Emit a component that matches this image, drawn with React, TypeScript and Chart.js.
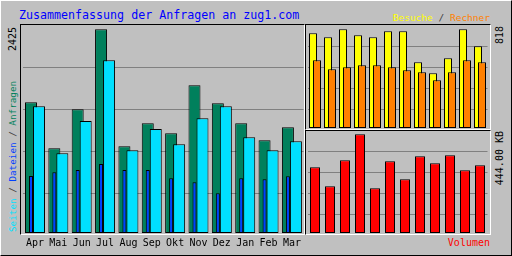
import React, { useEffect, useRef } from "react";
import { Chart, registerables } from "chart.js";

Chart.register(...registerables);

// ---- data ----
const months = ["Apr", "Mai", "Jun", "Jul", "Aug", "Sep", "Okt", "Nov", "Dez", "Jan", "Feb", "Mar"];
const anfragen = [1556, 1008, 1473, 2425, 1032, 1306, 1187, 1758, 1544, 1306, 1104, 1258];
const seiten = [1508, 949, 1333, 2056, 985, 1238, 1056, 1366, 1508, 1139, 985, 1092];
const dateien = [679, 723, 750, 821, 750, 750, 651, 604, 473, 651, 639, 675];
const besuche = [785, 752, 818, 768, 752, 801, 801, 545, 453, 578, 818, 677];
const rechner = [561, 486, 503, 520, 520, 503, 478, 462, 395, 462, 561, 545];
const volumenKB = [295.5, 210, 327, 444, 201, 322.5, 241.5, 345, 313.5, 349.5, 282, 304.5];

const titleText = "Zusammenfassung der Anfragen an zug1.com";
const maxAnfragenLabel = String(Math.max(...anfragen));
const maxBesucheLabel = String(Math.max(...besuche));
const maxVolumenLabel = Math.max(...volumenKB).toFixed(2) + " KB";

const FONT = "'DejaVu Sans Mono', monospace";
const C = {
  bg: "#C0C0C0",
  grid: "#808080",
  green: "#00805C",
  cyan: "#00E0FF",
  blue: "#0040FF",
  yellow: "#FFFF00",
  orange: "#FF8000",
  red: "#FF0000",
  title: "#0000FF",
};

function gridAxis(min: number, max: number) {
  return {
    type: "linear",
    position: "left",
    min,
    max,
    afterBuildTicks: (s: any) => {
      s.ticks = [1, 2, 3, 4].map((v) => ({ value: v }));
    },
    afterFit: (s: any) => {
      s.width = 0;
    },
    ticks: { display: false },
    grid: { color: C.grid, drawTicks: false, lineWidth: 1 },
    border: { display: false },
  };
}

const barStyle = {
  borderColor: "#000000",
  borderWidth: 1,
  borderSkipped: false,
  inflateAmount: 0,
};

const baseOptions = {
  animation: false,
  responsive: false,
  maintainAspectRatio: false,
  events: [],
  plugins: { legend: { display: false }, tooltip: { enabled: false }, title: { display: false } },
};

function useChart(ref: React.RefObject<HTMLCanvasElement>, make: () => any) {
  useEffect(() => {
    if (!ref.current) return;
    const chart = new Chart(ref.current, make());
    return () => chart.destroy();
  }, []);
}

function MainChart() {
  const ref = useRef<HTMLCanvasElement>(null);
  useChart(ref, () => ({
    type: "bar",
    data: {
      labels: months,
      datasets: [
        { label: "Anfragen", data: anfragen, backgroundColor: C.green, stack: "a", order: 3, categoryPercentage: 0.685, barPercentage: 1.5, ...barStyle },
        { label: "Seiten", data: seiten, backgroundColor: C.cyan, stack: "b", order: 2, categoryPercentage: 0.685, barPercentage: 1.5, ...barStyle },
        { label: "Dateien", data: dateien, backgroundColor: C.blue, stack: "a", order: 1, categoryPercentage: 0.685, barPercentage: 0.5, ...barStyle },
      ],
    },
    options: {
      ...baseOptions,
      layout: { padding: { left: 23.3, right: 1.3, top: 25, bottom: 0 } },
      scales: {
        x: {
          type: "category",
          offset: true,
          grid: { display: false, drawTicks: false },
          border: { display: false },
          afterFit: (s: any) => {
            s.height = 23;
          },
          ticks: { color: "#000", font: { family: FONT, size: 10 }, padding: 4, autoSkip: false, maxRotation: 0 },
        },
        y: { type: "linear", display: false, stacked: false, min: 0, max: Math.max(...anfragen) * 1.021 },
        g: gridAxis(0.05, 5),
      },
    },
  }));
  return <canvas ref={ref} width={305} height={256} style={{ position: "absolute", left: 0, top: 0 }} />;
}

function VisitsChart() {
  const ref = useRef<HTMLCanvasElement>(null);
  useChart(ref, () => ({
    type: "bar",
    data: {
      labels: months,
      datasets: [
        // empty spacer so that Besuche takes the left slot while being drawn beneath Rechner
        { label: "", data: [], stack: "l", order: 0 },
        { label: "Besuche", data: besuche, backgroundColor: C.yellow, stack: "l", order: 2, categoryPercentage: 0.5333, barPercentage: 2, ...barStyle },
        { label: "Rechner", data: rechner, backgroundColor: C.orange, stack: "r", order: 1, categoryPercentage: 0.5333, barPercentage: 2, ...barStyle },
      ],
    },
    options: {
      ...baseOptions,
      layout: { padding: { left: 1.5, right: 2.5, top: 0, bottom: 0 } },
      scales: {
        x: { type: "category", offset: true, display: false },
        y: { type: "linear", display: false, stacked: false, min: 0, max: Math.max(...besuche) * 1.0436 },
        g: gridAxis(0.1, 5),
      },
    },
  }));
  return <canvas ref={ref} width={184} height={103} style={{ position: "absolute", left: 306, top: 25 }} />;
}

function VolumeChart() {
  const ref = useRef<HTMLCanvasElement>(null);
  useChart(ref, () => ({
    type: "bar",
    data: {
      labels: months,
      datasets: [
        { label: "Volumen", data: volumenKB, backgroundColor: C.red, categoryPercentage: 1, barPercentage: 0.6667, ...barStyle },
      ],
    },
    options: {
      ...baseOptions,
      layout: { padding: { left: 1.5, right: 2.5, top: 0, bottom: 0 } },
      scales: {
        x: { type: "category", offset: true, display: false },
        y: { type: "linear", display: false, min: 0, max: Math.max(...volumenKB) * 1.0334 },
        g: gridAxis(0.1, 4.96),
      },
    },
  }));
  return <canvas ref={ref} width={184} height={102} style={{ position: "absolute", left: 306, top: 131 }} />;
}

function Panel({ left, top, width, height }: { left: number; top: number; width: number; height: number }) {
  return (
    <div
      style={{
        position: "absolute",
        left,
        top,
        width,
        height,
        boxSizing: "border-box",
        borderTop: "1px solid #000",
        borderLeft: "1px solid #000",
        borderRight: "1px solid #fff",
        borderBottom: "1px solid #fff",
      }}
    />
  );
}

// rotated text reading bottom-to-top; anchored either at its start (bottom) or its end (top)
function VText({ x, y, anchor, box, children, size = 10 }: any) {
  const common: any = {
    position: "absolute",
    left: x,
    transform: "rotate(-90deg)",
    transformOrigin: "0 0",
    whiteSpace: "nowrap",
    fontFamily: FONT,
    fontSize: size,
    lineHeight: "12px",
    height: 12,
  };
  if (anchor === "top") {
    return <div style={{ ...common, top: y + box, width: box, textAlign: "right" }}>{children}</div>;
  }
  return <div style={{ ...common, top: y }}>{children}</div>;
}

export default function App() {
  return (
    <div
      style={{
        position: "absolute",
        left: 0,
        top: 0,
        width: 512,
        height: 256,
        background: C.bg,
        overflow: "hidden",
        boxSizing: "border-box",
        borderTop: "1px solid #fff",
        borderLeft: "1px solid #fff",
        borderRight: "1px solid #000",
        borderBottom: "1px solid #000",
        fontFamily: FONT,
      }}
    >
      <div style={{ position: "absolute", left: -1, top: -1, width: 512, height: 256 }}>
        <Panel left={20} top={24} width={285} height={211} />
        <Panel left={305} top={24} width={186} height={106} />
        <Panel left={305} top={130} width={186} height={105} />

        <div style={{ position: "absolute", left: 19, top: 8, fontSize: 11.65, lineHeight: "14px", color: C.title, whiteSpace: "nowrap" }}>
          {titleText}
        </div>
        <div style={{ position: "absolute", right: 512 - 490, top: 12, fontSize: 9.5, lineHeight: "12px", whiteSpace: "nowrap" }}>
          <span style={{ color: C.yellow }}>Besuche</span>
          <span style={{ color: "#404040" }}> / </span>
          <span style={{ color: C.orange }}>Rechner</span>
        </div>
        <div style={{ position: "absolute", right: 512 - 490, top: 237, fontSize: 10, lineHeight: "12px", color: C.red, whiteSpace: "nowrap" }}>
          Volumen
        </div>

        <VText x={7} y={26.5} anchor="top" box={60}>{maxAnfragenLabel}</VText>
        <VText x={7} y={232.3} size={9.3}>
          <span style={{ color: C.cyan }}>Seiten</span>
          <span style={{ color: "#404040" }}> / </span>
          <span style={{ color: C.blue }}>Dateien</span>
          <span style={{ color: "#404040" }}> / </span>
          <span style={{ color: C.green }}>Anfragen</span>
        </VText>
        <VText x={494} y={26} anchor="top" box={60}>{maxBesucheLabel}</VText>
        <VText x={494} y={131} anchor="top" box={80}>{maxVolumenLabel}</VText>

        <MainChart />
        <VisitsChart />
        <VolumeChart />
      </div>
    </div>
  );
}
